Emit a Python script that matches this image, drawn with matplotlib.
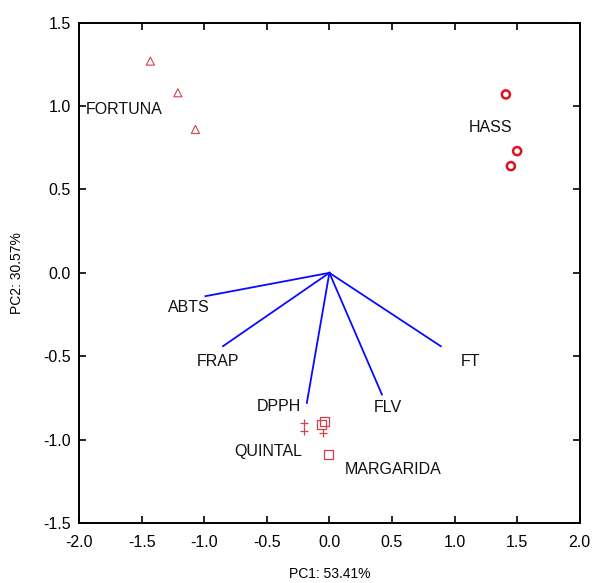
import numpy as np
import matplotlib.pyplot as plt

plt.rcParams['font.family'] = ['Liberation Sans', 'DejaVu Sans']

# cultivar scores (PC1, PC2)
fortuna_x = [-1.43, -1.21, -1.07]
fortuna_y = [1.27, 1.08, 0.86]
hass_x = [1.41, 1.50, 1.45]
hass_y = [1.07, 0.73, 0.64]
quintal_x = [-0.20, -0.20, -0.05]
quintal_y = [-0.90, -0.95, -0.96]
margarida_x = [-0.04, -0.06, -0.01]
margarida_y = [-0.89, -0.91, -1.09]

# variable loadings
variables = ["ABTS", "FRAP", "DPPH", "FLV", "FT"]
load_x = [-0.99, -0.85, -0.18, 0.42, 0.89]
load_y = [-0.14, -0.44, -0.78, -0.73, -0.44]
var_label_pos = [(-1.12, -0.21), (-0.89, -0.53), (-0.40, -0.80), (0.47, -0.81), (1.13, -0.53)]

group_names = ["FORTUNA", "HASS", "QUINTAL", "MARGARIDA"]
group_label_pos = [(-1.64, 0.98), (1.29, 0.87), (-0.49, -1.07), (0.51, -1.18)]

fig = plt.figure(figsize=(5.94, 5.83), dpi=100)
ax = fig.add_axes([0.133, 0.103, 0.843, 0.858])

for vx, vy in zip(load_x, load_y):
    ax.plot([0, vx], [0, vy], color='#0a0aff', lw=1.3)

ax.scatter(fortuna_x, fortuna_y, marker='^', s=34, facecolors='none', edgecolors='#d0404f', linewidths=0.8)
ax.scatter(hass_x, hass_y, marker='o', s=34, facecolors='none', edgecolors='#e01020', linewidths=1.8)
ax.scatter(quintal_x, quintal_y, marker='+', s=40, color='#d0404f', linewidths=0.9)
ax.scatter(margarida_x, margarida_y, marker='s', s=40, facecolors='none', edgecolors='#d0404f', linewidths=0.9)

for name, (tx, ty) in zip(variables, var_label_pos):
    ax.text(tx, ty, name, ha='center', va='center', fontsize=11.5, color='#111111')
for name, (tx, ty) in zip(group_names, group_label_pos):
    ax.text(tx, ty, name, ha='center', va='center', fontsize=11.5, color='#111111')

ax.set_xlim(-2.0, 2.0)
ax.set_ylim(-1.5, 1.5)
ax.set_xticks(np.arange(-2.0, 2.01, 0.5))
ax.set_yticks(np.arange(-1.5, 1.51, 0.5))
ax.xaxis.set_major_formatter(plt.FormatStrFormatter('%.1f'))
ax.yaxis.set_major_formatter(plt.FormatStrFormatter('%.1f'))
ax.tick_params(direction='in', top=True, right=True, length=5, width=1.2, labelsize=11.5)
ax.tick_params(axis='x', pad=9)
ax.tick_params(axis='y', pad=6)
for s in ax.spines.values():
    s.set_linewidth(1.4)

ax.set_xlabel("PC1: 53.41%", fontsize=10, labelpad=12)
ax.set_ylabel("PC2: 30.57%", fontsize=10, labelpad=14)

fig.savefig("out.png", dpi=100)
